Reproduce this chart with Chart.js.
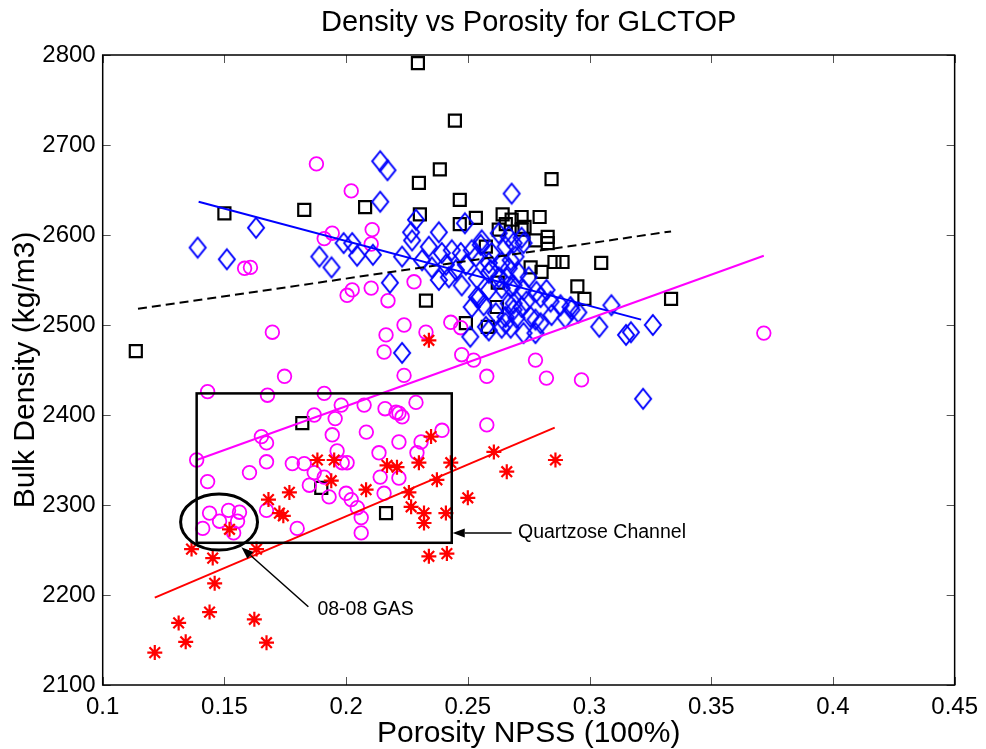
<!DOCTYPE html>
<html><head><meta charset="utf-8">
<script src="https://cdn.jsdelivr.net/npm/chart.js@4.4.1/dist/chart.umd.min.js"></script>
<style>html,body{margin:0;padding:0;background:#fff;}canvas{display:block;}</style>
</head><body>
<canvas id="c" width="986" height="749"></canvas>
<script>
// ---- tick labels ----
const xTicks = [0.1, 0.15, 0.2, 0.25, 0.3, 0.35, 0.4, 0.45];
const yTicks = [2100, 2200, 2300, 2400, 2500, 2600, 2700, 2800];
const chartTitle = 'Density vs Porosity for GLCTOP';

// ---- series values [porosity, bulk density] ----
const squarePts = [[0.2295,2791],[0.2447,2727],[0.2385,2673],[0.2299,2658],[0.2467,2639],[0.2844,2662],
 [0.150,2624],[0.1828,2628],[0.2078,2631],[0.2303,2623],[0.2533,2619],[0.2467,2612],[0.2643,2623],[0.268,2617],
 [0.2721,2620],[0.2795,2620],[0.2656,2612],[0.2733,2609],[0.2828,2598],[0.2828,2591],[0.2778,2594],[0.2856,2570],
 [0.2889,2570],[0.3048,2569],[0.295,2543],[0.2979,2529],[0.3335,2529],[0.1136,2471],[0.2328,2527],[0.2492,2502],
 [0.2582,2498],[0.2619,2520],[0.2623,2547],[0.2574,2587],[0.2627,2606],[0.2758,2564],[0.2803,2559],[0.182,2391],
 [0.1898,2319],[0.2164,2291],[0.2721,2606]];

const diamondPts = [[0.139,2586],[0.151,2573],[0.163,2608],[0.214,2682],[0.217,2672],[0.214,2637],[0.189,2576],
 [0.194,2564],[0.199,2591],[0.2025,2591],[0.2045,2577],[0.211,2578],[0.218,2547],[0.223,2469],[0.251,2487],
 [0.2545,2530],[0.2574,2498],[0.304,2498],[0.309,2522],[0.315,2489],[0.317,2492],[0.326,2500],[0.322,2418],
 [0.2926,2517],[0.2844,2511],[0.2778,2506],[0.2655,2502],[0.2688,2517],[0.2721,2520],
 [0.268,2646],[0.2287,2617],[0.2267,2603],[0.2381,2603],[0.2488,2613],[0.223,2576],[0.2271,2594],[0.2434,2583],
 [0.2557,2594],[0.2627,2602],[0.2668,2598],[0.2721,2597],[0.2471,2580],[0.2533,2576],[0.2598,2580],[0.2655,2587],
 [0.2688,2591],[0.2312,2572],
 [0.234,2587],[0.2393,2580],[0.2516,2583],[0.2553,2589],[0.2352,2564],[0.241,2567],[0.2451,2561],[0.2492,2567],
 [0.2586,2569],[0.2594,2561],[0.2639,2569],[0.2676,2572],[0.2381,2550],[0.2422,2553],[0.2475,2544],[0.2537,2552],
 [0.2586,2558],[0.2627,2553],[0.266,2552],[0.2537,2531],[0.2586,2539],[0.2639,2541],[0.2676,2542],[0.2516,2520],
 [0.2565,2522],[0.2615,2513],[0.2655,2509],[0.2586,2494],[0.2639,2497],[0.2668,2524],[0.2676,2497],
 [0.2729,2591],[0.2696,2576],[0.2668,2563],[0.2709,2558],[0.275,2553],[0.2688,2544],[0.2729,2539],[0.2782,2537],
 [0.2823,2539],[0.2688,2524],[0.2741,2526],[0.2799,2531],[0.284,2526],[0.2881,2522],[0.2922,2520],[0.2954,2514],
 [0.27,2508],[0.2758,2509],[0.2799,2502],[0.2901,2508],[0.2729,2491],[0.2778,2491]];

const circlePts = [[0.1878,2679],[0.2021,2649],[0.1943,2602],[0.191,2596],[0.2107,2606],[0.2103,2590],[0.1583,2563],
 [0.1607,2564],[0.2025,2539],[0.2004,2533],[0.2103,2541],[0.2172,2527],[0.1697,2492],[0.2164,2489],[0.2156,2470],
 [0.1747,2443],[0.2279,2548],[0.2238,2500],[0.2328,2492],[0.243,2503],[0.2471,2497],[0.2475,2467],[0.2524,2461],
 [0.2238,2444],[0.2578,2443],[0.2778,2461],[0.2823,2441],[0.2967,2439],[0.3716,2491],
 [0.1431,2426],[0.1677,2422],[0.191,2424],[0.198,2411],[0.2074,2411],[0.216,2407],[0.2205,2403],[0.2217,2402],
 [0.223,2398],[0.2287,2414],[0.1869,2400],[0.1955,2396],[0.1652,2376],[0.1673,2369],[0.2083,2381],[0.1943,2378],
 [0.1963,2360],[0.2394,2383],[0.2308,2370],[0.2217,2370],[0.2578,2389],
 [0.1386,2350],[0.1673,2348],[0.1779,2346],[0.1828,2346],[0.1984,2347],[0.2004,2347],[0.2135,2358],[0.2291,2358],
 [0.1603,2336],[0.1431,2326],[0.1869,2336],[0.214,2331],[0.2217,2330],[0.191,2331],[0.1849,2322],
 [0.2,2313],[0.2021,2306],[0.2046,2297],[0.2062,2286],[0.2156,2313],[0.2062,2269],[0.193,2309],
 [0.1439,2291],[0.1517,2294],[0.1562,2292],[0.148,2282],[0.1554,2282],[0.1411,2274],[0.1538,2269],
 [0.1673,2294],[0.1799,2274]];

const starPts = [[0.234,2483],[0.2349,2376],[0.2607,2359],[0.286,2350],[0.266,2337],[0.243,2347],[0.2299,2347],
 [0.2168,2344],[0.2209,2342],[0.2373,2328],[0.1951,2350],[0.1882,2350],[0.1939,2327],[0.2082,2317],[0.2258,2314],
 [0.2267,2298],[0.232,2291],[0.232,2280],[0.241,2291],[0.234,2243],[0.2414,2246],[0.25,2308],[0.1767,2314],
 [0.1681,2306],[0.1726,2291],[0.1742,2288],[0.1521,2273],[0.1365,2251],[0.1452,2241],[0.1632,2251],[0.146,2213],
 [0.1214,2136],[0.1312,2169],[0.1439,2181],[0.1623,2173],[0.1341,2148],[0.1673,2147]];

// ---- fitted trend lines (end points) ----
const trendBlack   = [[0.1145,2518],[0.3335,2604]];
const trendBlue    = [[0.1394,2637],[0.3212,2506]];
const trendMagenta = [[0.1386,2350],[0.3716,2577]];
const trendRed     = [[0.1214,2197],[0.2857,2386]];

// ---- annotations (data coordinates) ----
const channelBoxX = [0.1386, 0.2434];
const channelBoxY = [2258, 2424];
const gasEllipseCenter = [0.1478, 2281];
const gasEllipseRadius = [0.0158, 31.1];
const gasArrowX = [0.1845, 0.157];
const gasArrowY = [2187, 2253];
const channelArrowX = [0.268, 0.2438];
const channelArrowY = [2269, 2269];
const gasLabel = ['08-08 GAS', 0.1882, 2184];
const channelLabel = ['Quartzose Channel', 0.2706, 2269];

const FONT = '"Liberation Sans", Arial, Helvetica, sans-serif';
const toXY = pts => pts.map(p => ({x: p[0], y: p[1]}));

function makeDiamond(w, h, color, lw) {
  const c = document.createElement('canvas');
  c.width = w + 4; c.height = h + 4;
  const g = c.getContext('2d');
  g.strokeStyle = color; g.lineWidth = lw;
  const cx = c.width / 2, cy = c.height / 2;
  g.beginPath();
  g.moveTo(cx, cy - h / 2); g.lineTo(cx + w / 2, cy);
  g.lineTo(cx, cy + h / 2); g.lineTo(cx - w / 2, cy);
  g.closePath(); g.stroke();
  return c;
}
const diamondImg = makeDiamond(16, 20, '#0000ff', 2);

function lineDs(pts, color, dash) {
  return {type: 'line', data: toXY(pts), borderColor: color, borderWidth: 2, borderDash: dash,
    pointRadius: 0, fill: false, showLine: true, tension: 0};
}

const overlay = {
  id: 'overlay',
  afterDatasetsDraw(chart) {
    const {ctx, chartArea: a, scales: {x, y}} = chart;
    ctx.save();
    const seg = (x1, y1, x2, y2) => { ctx.beginPath(); ctx.moveTo(x1, y1); ctx.lineTo(x2, y2); ctx.stroke(); };
    // inward tick marks on all sides
    ctx.strokeStyle = '#555'; ctx.lineWidth = 1;
    xTicks.forEach(v => { const p = Math.round(x.getPixelForValue(v)) + 0.5;
      seg(p, a.bottom, p, a.bottom - 8); seg(p, a.top, p, a.top + 8); });
    yTicks.forEach(v => { const p = Math.round(y.getPixelForValue(v)) + 0.5;
      seg(a.left, p, a.left + 8, p); seg(a.right, p, a.right - 8, p); });
    // axes box
    ctx.strokeStyle = '#000'; ctx.lineWidth = 1.5;
    ctx.strokeRect(a.left, a.top, a.right - a.left, a.bottom - a.top);
    // channel rectangle
    ctx.lineWidth = 2.5;
    const rx0 = x.getPixelForValue(channelBoxX[0]), rx1 = x.getPixelForValue(channelBoxX[1]);
    const ry0 = y.getPixelForValue(channelBoxY[0]), ry1 = y.getPixelForValue(channelBoxY[1]);
    ctx.strokeRect(rx0, ry1, rx1 - rx0, ry0 - ry1);
    // gas ellipse
    ctx.lineWidth = 3;
    const ecx = x.getPixelForValue(gasEllipseCenter[0]), ecy = y.getPixelForValue(gasEllipseCenter[1]);
    const erx = x.getPixelForValue(gasEllipseCenter[0] + gasEllipseRadius[0]) - ecx;
    const ery = ecy - y.getPixelForValue(gasEllipseCenter[1] + gasEllipseRadius[1]);
    ctx.beginPath(); ctx.ellipse(ecx, ecy, erx, ery, 0, 0, Math.PI * 2); ctx.stroke();
    // arrows
    const arrow = (xs, ys) => {
      const x1 = x.getPixelForValue(xs[0]), y1 = y.getPixelForValue(ys[0]);
      const x2 = x.getPixelForValue(xs[1]), y2 = y.getPixelForValue(ys[1]);
      ctx.lineWidth = 1.5; ctx.strokeStyle = '#000'; ctx.fillStyle = '#000';
      const ang = Math.atan2(y2 - y1, x2 - x1), L = 12, W = 4.5;
      const bx = x2 - L * Math.cos(ang), by = y2 - L * Math.sin(ang);
      seg(x1, y1, bx, by);
      ctx.beginPath(); ctx.moveTo(x2, y2);
      ctx.lineTo(bx + W * Math.sin(ang), by - W * Math.cos(ang));
      ctx.lineTo(bx - W * Math.sin(ang), by + W * Math.cos(ang));
      ctx.closePath(); ctx.fill();
    };
    arrow(gasArrowX, gasArrowY);
    arrow(channelArrowX, channelArrowY);
    // labels
    ctx.fillStyle = '#000'; ctx.font = '19.5px ' + FONT; ctx.textAlign = 'left'; ctx.textBaseline = 'middle';
    [gasLabel, channelLabel].forEach(l => ctx.fillText(l[0], x.getPixelForValue(l[1]), y.getPixelForValue(l[2])));
    // title centred over the axes
    ctx.font = '29px ' + FONT; ctx.textAlign = 'center'; ctx.textBaseline = 'middle';
    ctx.fillText(chartTitle, (a.left + a.right) / 2, 23);
    ctx.restore();
  }
};

new Chart(document.getElementById('c'), {
  type: 'scatter',
  data: {datasets: [
    lineDs(trendRed, '#ff0000', []),
    lineDs(trendMagenta, '#ff00ff', []),
    lineDs(trendBlue, '#0000ff', []),
    lineDs(trendBlack, '#000000', [9, 5]),
    {data: toXY(starPts), pointStyle: 'star', pointRadius: 7.5, borderColor: '#ff0000', borderWidth: 2.2, backgroundColor: 'rgba(0,0,0,0)'},
    {data: toXY(diamondPts), pointStyle: diamondImg, pointRadius: 9, borderColor: '#0000ff', backgroundColor: 'rgba(0,0,0,0)'},
    {data: toXY(circlePts), pointStyle: 'circle', pointRadius: 6.8, borderColor: '#ff00ff', borderWidth: 1.8, backgroundColor: 'rgba(0,0,0,0)'},
    {data: toXY(squarePts), pointStyle: 'rect', pointRadius: 8.5, borderColor: '#000000', borderWidth: 2.2, backgroundColor: 'rgba(0,0,0,0)'}
  ]},
  options: {
    responsive: false, animation: false, devicePixelRatio: 1, events: [],
    layout: {padding: {left: 0, right: 28.5, top: 55, bottom: 0}},
    plugins: {
      legend: {display: false}, tooltip: {enabled: false}, title: {display: false}
    },
    scales: {
      x: {type: 'linear', min: 0.1, max: 0.45,
        afterBuildTicks: s => { s.ticks = xTicks.map(v => ({value: v})); },
        afterFit: s => { s.height = 64; },
        grid: {display: false, drawTicks: false}, border: {display: false},
        ticks: {color: '#000', font: {family: FONT, size: 24}, padding: 8, maxRotation: 0, autoSkip: false,
          callback: v => String(Number(Number(v).toFixed(2)))},
        title: {display: true, text: 'Porosity NPSS (100%)', color: '#000', font: {family: FONT, size: 30, lineHeight: 1}, padding: 0}
      },
      y: {type: 'linear', min: 2100, max: 2800,
        afterBuildTicks: s => { s.ticks = yTicks.map(v => ({value: v})); },
        afterFit: s => { s.width = 102.7; },
        grid: {display: false, drawTicks: false}, border: {display: false},
        ticks: {color: '#000', font: {family: FONT, size: 24}, padding: 7, autoSkip: false,
          callback: v => String(v)},
        title: {display: true, text: 'Bulk Density (kg/m3)', color: '#000', font: {family: FONT, size: 30, lineHeight: 1.2}, padding: {top: 8, bottom: 0}}
      }
    }
  },
  plugins: [overlay]
});
</script>
</body></html>
